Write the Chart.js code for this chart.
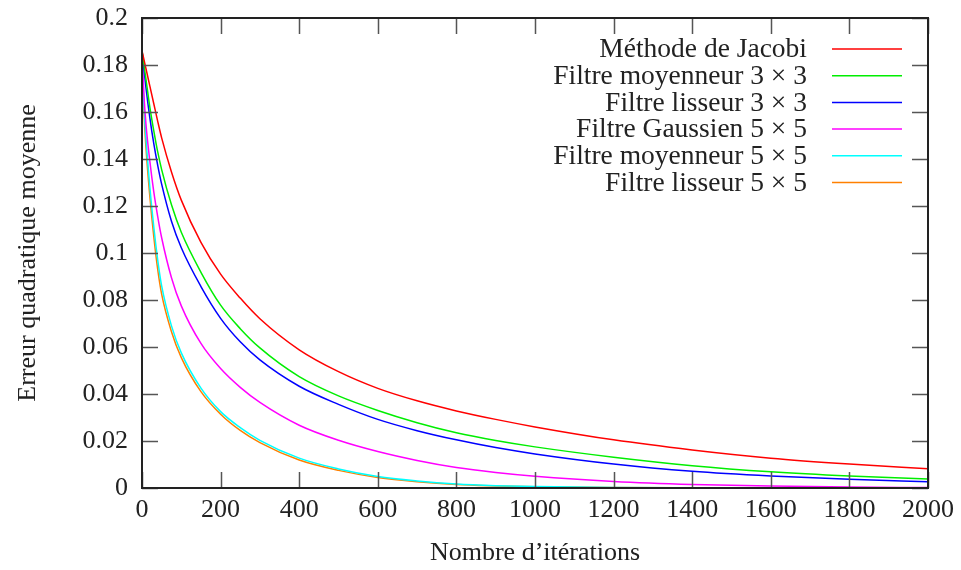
<!DOCTYPE html>
<html lang="fr">
<head>
  <meta charset="UTF-8" />
  <title>Erreur quadratique moyenne</title>
  <script src="https://cdn.jsdelivr.net/npm/chart.js"></script>
  <style>
    html, body { margin: 0; padding: 0; background: #fff; }
    canvas { display: block; }
  </style>
</head>
<body>
  <canvas id="graphe" width="961" height="570"></canvas>

  <script>
    // nombre d'itérations (abscisses)
    const iterations = [0, 5, 10, 20, 30, 40, 50, 75, 100, 150, 200, 250, 300, 400, 500, 600, 700, 800, 900, 1000, 1200, 1400, 1600, 1800, 2000];

    // erreur quadratique moyenne, une liste par méthode
    const jacobi      = [0.186, 0.1823, 0.1785, 0.171, 0.1635, 0.156, 0.149, 0.1345, 0.1225, 0.1045, 0.091, 0.0808, 0.072, 0.0588, 0.0495, 0.0424, 0.0371, 0.0328, 0.0292, 0.026, 0.0205, 0.0162, 0.0127, 0.0102, 0.0082];
    const moyenneur3  = [0.186, 0.180, 0.174, 0.162, 0.152, 0.143, 0.1355, 0.1205, 0.1088, 0.0918, 0.0778, 0.0678, 0.0596, 0.0474, 0.0392, 0.0330, 0.0278, 0.0235, 0.0202, 0.0175, 0.0131, 0.0095, 0.0069, 0.0051, 0.0038];
    const lisseur3    = [0.186, 0.178, 0.1705, 0.1575, 0.1465, 0.1373, 0.1293, 0.1135, 0.1022, 0.0857, 0.0722, 0.0622, 0.0545, 0.0433, 0.0356, 0.0292, 0.0244, 0.0205, 0.0172, 0.0145, 0.0102, 0.0071, 0.0051, 0.0037, 0.0027];
    const gaussien5   = [0.186, 0.167, 0.155, 0.139, 0.126, 0.1155, 0.1065, 0.0895, 0.0775, 0.0615, 0.0508, 0.0428, 0.0364, 0.0267, 0.0203, 0.0155, 0.0117, 0.0087, 0.0066, 0.005, 0.0028, 0.0015, 0.0008, 0.0004, 0.0002];
    const moyenneur5  = [0.186, 0.163, 0.149, 0.128, 0.111, 0.097, 0.086, 0.069, 0.0575, 0.0425, 0.0325, 0.0257, 0.0203, 0.0127, 0.0081, 0.0049, 0.003, 0.0017, 0.001, 0.0006, 0.0002, 0.0001, 0.00005, 0.00003, 0.00002];
    const lisseur5    = [0.186, 0.160, 0.145, 0.124, 0.107, 0.093, 0.0825, 0.0665, 0.0555, 0.041, 0.0314, 0.0245, 0.0193, 0.0119, 0.0075, 0.0045, 0.0027, 0.0015, 0.0009, 0.0005, 0.00018, 0.00007, 0.00003, 0.00001, 0.00001];

    const noms = ["Méthode de Jacobi", "Filtre moyenneur 3 × 3", "Filtre lisseur 3 × 3",
                  "Filtre Gaussien 5 × 5", "Filtre moyenneur 5 × 5", "Filtre lisseur 5 × 5"];
    const couleurs = ["#ff0000", "#00ee00", "#0000ff", "#ff00ff", "#00ffff", "#ff8000"];
    const series = [jacobi, moyenneur3, lisseur3, gaussien5, moyenneur5, lisseur5];

    const xTicks = ["0", "200", "400", "600", "800", "1000", "1200", "1400", "1600", "1800", "2000"];
    const yTicks = ["0", "0.02", "0.04", "0.06", "0.08", "0.1", "0.12", "0.14", "0.16", "0.18", "0.2"];

    const police = "'Liberation Serif', 'Times New Roman', serif";
    const encre = "#222";

    // cadre et graduations vers l'intérieur, sur les quatre côtés
    const cadre = {
      id: "cadre",
      afterDatasetsDraw(chart) {
        const { ctx, chartArea: a, scales: { x, y } } = chart;
        const L = 16;
        ctx.save();
        ctx.strokeStyle = "#555";
        ctx.lineWidth = 1.5;
        ctx.beginPath();
        x.ticks.forEach(t => {
          const px = Math.round(x.getPixelForValue(t.value)) + 0.5;
          ctx.moveTo(px, a.bottom); ctx.lineTo(px, a.bottom - L);
          ctx.moveTo(px, a.top); ctx.lineTo(px, a.top + L);
        });
        y.ticks.forEach(t => {
          const py = Math.round(y.getPixelForValue(t.value)) + 0.5;
          ctx.moveTo(a.left, py); ctx.lineTo(a.left + L, py);
          ctx.moveTo(a.right, py); ctx.lineTo(a.right - L, py);
        });
        ctx.stroke();
        ctx.strokeStyle = encre;
        ctx.lineWidth = 2;
        ctx.strokeRect(a.left, a.top, a.right - a.left, a.bottom - a.top);
        ctx.restore();
      }
    };

    // légende façon gnuplot : texte aligné à droite puis échantillon de trait
    const legende = {
      id: "legende",
      afterDraw(chart) {
        const { ctx, chartArea: a } = chart;
        ctx.save();
        ctx.font = "27.5px " + police;
        ctx.fillStyle = encre;
        ctx.textAlign = "right";
        ctx.textBaseline = "middle";
        chart.data.datasets.forEach((ds, i) => {
          const yy = a.top + 31 + i * 26.7;
          ctx.fillText(ds.label, a.right - 121, yy + 1);
          ctx.strokeStyle = ds.borderColor;
          ctx.lineWidth = 1.5;
          ctx.beginPath();
          ctx.moveTo(a.right - 96, yy);
          ctx.lineTo(a.right - 26, yy);
          ctx.stroke();
        });
        ctx.restore();
      }
    };

    new Chart(document.getElementById("graphe"), {
      type: "line",
      data: {
        datasets: series.map((s, i) => ({
          label: noms[i],
          data: iterations.map((it, j) => ({ x: it, y: s[j] })),
          borderColor: couleurs[i],
          borderWidth: 1.5,
          pointRadius: 0,
          fill: false,
          cubicInterpolationMode: "monotone"
        }))
      },
      options: {
        responsive: false,
        animation: false,
        layout: { padding: { top: 18, right: 33, bottom: 0, left: 0 } },
        plugins: {
          legend: { display: false },
          tooltip: { enabled: false }
        },
        scales: {
          x: {
            type: "linear",
            min: 0,
            max: 2000,
            grid: { display: false, drawTicks: false },
            border: { display: false },
            ticks: {
              stepSize: 200,
              padding: 7,
              color: encre,
              font: { family: police, size: 26 },
              maxRotation: 0,
              callback: (v, i) => xTicks[i]
            },
            title: {
              display: true,
              text: "Nombre d’itérations",
              color: encre,
              font: { family: police, size: 26 },
              padding: { top: 0, bottom: 1 }
            },
            afterFit: s => { s.height = 82; }
          },
          y: {
            min: 0,
            max: 0.2,
            grid: { display: false, drawTicks: false },
            border: { display: false },
            ticks: {
              stepSize: 0.02,
              padding: 14,
              color: encre,
              font: { family: police, size: 26 },
              callback: (v, i) => yTicks[i]
            },
            title: {
              display: true,
              text: "Erreur quadratique moyenne",
              color: encre,
              font: { family: police, size: 26 },
              padding: { top: 13, bottom: 0 }
            },
            afterFit: s => { s.width = 142; s.paddingTop = 0; s.paddingBottom = 0; }
          }
        }
      },
      plugins: [cadre, legende]
    });
  </script>
</body>
</html>
